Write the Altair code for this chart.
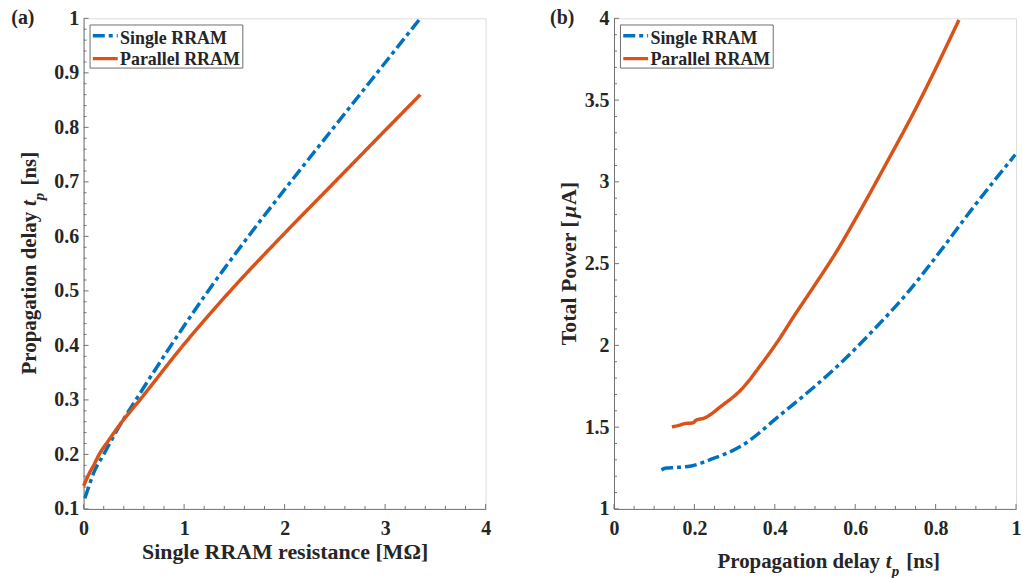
import altair as alt
import pandas as pd

FONT = "'Liberation Serif', 'Times New Roman', Times, serif"
BLUE, ORANGE = "#0072BD", "#D95319"
TXT, AXC = "#262626", "#737373"
W, H = 404, 493

series = ["Single RRAM", "Parallel RRAM"]
colors = [BLUE, ORANGE]
dashes = [[12, 4, 4, 4], [1, 0]]

# ---- panel (a): propagation delay vs single RRAM resistance ----
a_single_res = [0.013, 0.05, 0.1, 0.2, 0.35, 0.52, 0.87, 1.24, 1.64, 2.06, 2.49, 2.92, 3.35]
a_single_tp = [0.12, 0.14, 0.166, 0.2, 0.25, 0.3, 0.4, 0.5, 0.6, 0.7, 0.8, 0.9, 1.0]
a_par_res = [0.0, 0.05, 0.1, 0.155, 0.25, 0.37, 0.56, 0.99, 1.46, 1.97, 2.5, 3.03, 3.35]
a_par_tp = [0.142, 0.163, 0.18, 0.2, 0.226, 0.257, 0.3, 0.4, 0.5, 0.6, 0.7, 0.8, 0.86]

# ---- panel (b): total power vs propagation delay ----
b_single_tp = [0.118, 0.13, 0.151, 0.192, 0.242, 0.316, 0.415, 0.48, 0.563, 0.645, 0.728, 0.802, 0.893, 0.998]
b_single_pow = [1.239, 1.25, 1.253, 1.263, 1.304, 1.384, 1.577, 1.709, 1.89, 2.093, 2.316, 2.545, 2.842, 3.166]
b_par_tp = [0.144, 0.16, 0.176, 0.196, 0.204, 0.225, 0.266, 0.32, 0.365, 0.406, 0.448, 0.497, 0.555, 0.6, 0.67, 0.753, 0.858]
b_par_pow = [1.502, 1.51, 1.522, 1.526, 1.542, 1.556, 1.627, 1.739, 1.88, 2.02, 2.18, 2.36, 2.58, 2.77, 3.08, 3.46, 3.99]

# ---- ticks ----
a_xticks = [0, 1, 2, 3, 4]
a_yticks = [0.1, 0.2, 0.3, 0.4, 0.5, 0.6, 0.7, 0.8, 0.9, 1.0]
b_xticks = [0, 0.2, 0.4, 0.6, 0.8, 1.0]
b_yticks = [1, 1.5, 2, 2.5, 3, 3.5, 4]
a_xminor = [round(i * 0.2, 3) for i in range(21) if i % 5]
a_yminor = [round(0.1 + i * 0.02, 3) for i in range(46) if i % 5]
b_xminor = [round(i * 0.05, 3) for i in range(21) if i % 4]
b_yminor = [round(1 + i * 0.1, 3) for i in range(31) if i % 5]

one = pd.DataFrame({"k": [0]})


def axis(values, title=None):
    kw = dict(values=values, format="~g", ticks=False, tickSize=0, grid=False,
              domainColor=AXC, domainWidth=1, labelFont=FONT, labelFontSize=20,
              labelFontWeight="bold", labelColor=TXT, labelFlush=False,
              labelOverlap=False, titleFont=FONT, titleFontSize=22,
              titleFontWeight="bold", titleColor=TXT, titlePadding=3)
    kw["title"] = title
    return alt.Axis(**kw)


def txt(s, x, y, size=22, style="normal", angle=0, align="left", baseline="alphabetic"):
    mk = dict(text=s, font=FONT, fontSize=size, fontWeight="bold", fontStyle=style,
              color=TXT, align=align, baseline=baseline)
    if angle:
        mk["angle"] = angle
    return alt.Chart(one).mark_text(**mk).encode(x=alt.value(x), y=alt.value(y))


def panel(xs_list, ys_list, xdom, ydom, xt, yt, xmin, ymin, xtitle, xlabpad, ylabpad,
          extra, frame):
    frames = []
    for name, xs, ys in zip(series, xs_list, ys_list):
        frames.append(pd.DataFrame({"x": xs, "y": ys, "series": name, "i": range(len(xs))}))
    df = pd.concat(frames, ignore_index=True)
    xa = axis(xt, xtitle)
    xa.labelPadding = xlabpad
    ya = axis(yt, None)
    ya.labelPadding = ylabpad
    X = alt.X("x:Q", scale=alt.Scale(domain=xdom, nice=False, zero=False), axis=xa)
    Y = alt.Y("y:Q", scale=alt.Scale(domain=ydom, nice=False, zero=False), axis=ya)
    lines = alt.Chart(df).mark_line(strokeWidth=3.5, strokeCap="butt", interpolate="monotone").encode(
        x=X, y=Y,
        color=alt.Color("series:N", scale=alt.Scale(domain=series, range=colors), legend=None),
        strokeDash=alt.StrokeDash("series:N", scale=alt.Scale(domain=series, range=dashes), legend=None),
        order="i:Q",
    )
    layers = []
    for vals, ln in ((xt, 5), (xmin, 3)):
        layers.append(alt.Chart(pd.DataFrame({"x": vals})).mark_rule(color=AXC, strokeWidth=1)
                      .encode(x=X, y=alt.value(H), y2=alt.value(H - ln)))
    for vals, ln in ((yt, 5), (ymin, 3)):
        layers.append(alt.Chart(pd.DataFrame({"y": vals})).mark_rule(color=AXC, strokeWidth=1)
                      .encode(y=Y, x=alt.value(0), x2=alt.value(ln)))
    # legend box
    leg = [alt.Chart(one).mark_rect(fill="white", stroke="#6e6e6e", strokeWidth=1)
           .encode(x=alt.value(6.5), x2=alt.value(160), y=alt.value(6.7), y2=alt.value(50))]
    rows_y = [17.5, 40.5]
    base_y = [25.5, 47.0]
    for name, c, d, ry, by in zip(series, colors, dashes, rows_y, base_y):
        leg.append(alt.Chart(one).mark_rule(color=c, strokeWidth=3.5, strokeDash=d)
                   .encode(x=alt.value(9.3), x2=alt.value(34.3), y=alt.value(ry)))
        leg.append(txt(name, 36.6, by, size=18))
    fr = alt.Chart(one).mark_rule(opacity=0).encode(
        x=alt.value(frame[0]), x2=alt.value(frame[1]), y=alt.value(frame[2]), y2=alt.value(frame[3]))
    return alt.layer(*layers, lines, *leg, *extra, fr).properties(width=W, height=H)


# panel (a) titles
S = 21
sub = 15
wPD, wsp, wt, wp, wns = 7.806 * S, 0.25 * S, 0.278 * S, 0.5 * sub, 1.611 * S
T = wPD + wsp + wt + wp + wsp + 2 + wns
y0 = 246 + T / 2
bx = -47.5
a_extra = [
    txt("(a)", -61, 0, size=20, align="center", baseline="middle"),
    txt("Propagation delay", bx, y0, size=S, angle=270),
    txt("t", bx, y0 - wPD - wsp, size=S, style="italic", angle=270),
    txt("p", bx + 8, y0 - wPD - wsp - wt, size=sub, style="italic", angle=270),
    txt("[ns]", bx, y0 - wPD - wsp - wt - wp - wsp - 2, size=S, angle=270),
]

# panel (b) titles
x0 = 104
yb = 552
wTP = 5.832 * 22
wmu = 0.576 * 22
yb0 = 246.5 + (wTP + wmu + 1.055 * 22) / 2
b_extra = [
    txt("(b)", -52, 0, size=20, align="center", baseline="middle"),
    txt("Propagation delay", x0, yb, size=S),
    txt("t", x0 + wPD + wsp, yb, size=S, style="italic"),
    txt("p", x0 + wPD + wsp + wt, yb + 8, size=sub, style="italic"),
    txt("[ns]", x0 + wPD + wsp + wt + wp + wsp + 2, yb, size=S),
    txt("Total Power [", -37.7, yb0, size=22, angle=270),
    txt("\u03bc", -37.7, yb0 - wTP, size=22, style="italic", angle=270),
    txt("A]", -37.7, yb0 - wTP - wmu, size=22, angle=270),
]

left = panel([a_single_res, a_par_res], [a_single_tp, a_par_tp], [0, 4], [0.1, 1.0],
             a_xticks, a_yticks, a_xminor, a_yminor, "Single RRAM resistance [M\u03a9]", 10, 5,
             a_extra, (-83, W, -16, H + 69))
right = panel([b_single_tp, b_par_tp], [b_single_pow, b_par_pow], [0, 1], [1, 4],
              b_xticks, b_yticks, b_xminor, b_yminor, None, 10, 5,
              b_extra, (0, W + 3, -16, H + 69))

chart = alt.hconcat(left, right, spacing=129, bounds="flush").properties(
    padding=0
).configure_view(stroke=None).configure(background="white")

chart.save("out.html", embed_options={"renderer": "svg", "actions": False})
